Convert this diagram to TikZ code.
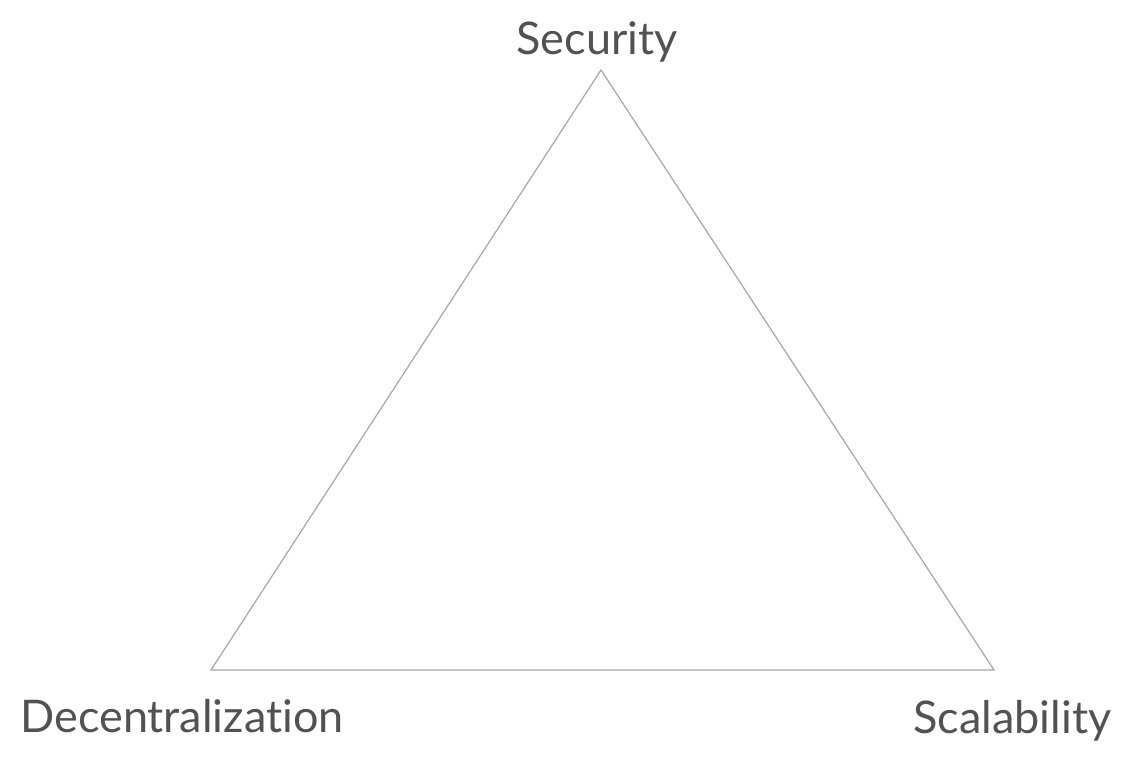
\documentclass[tikz,border=0pt]{standalone}
\usepackage{fontspec}
\setmainfont{Lato}[Ligatures={NoCommon,NoRare}]
\begin{document}
\begin{tikzpicture}[x=0.5pt,y=-0.5pt,
  edge/.style={draw=black!35,line width=0.6pt,line join=miter},
  lbl/.style={text=black!68,inner sep=0pt,font=\fontsize{22.5}{27}\selectfont}]
\useasboundingbox (0,0) rectangle (1134,764);
\coordinate (top) at (601,70);
\coordinate (bl) at (211,670);
\coordinate (br) at (994,670);
\draw[edge] (top) -- (bl) -- (br) -- cycle;
\node[lbl,anchor=base] (sec) at (597,55) {Security};
\node[lbl,anchor=base west] (dec) at (20,732) {Decentralization};
\node[lbl,anchor=base west] (sca) at (913,733) {Scalability};
\end{tikzpicture}
\end{document}
